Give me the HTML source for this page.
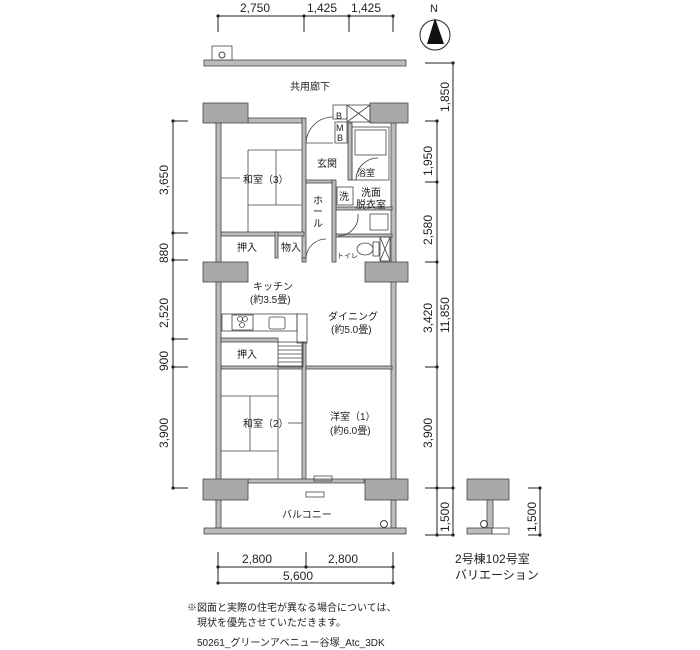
<!DOCTYPE html>
<html><head><meta charset="utf-8"><style>
html,body{margin:0;padding:0;background:#fff;}
svg{display:block;}
text{font-family:"Liberation Sans","Noto Sans CJK JP",sans-serif;fill:#222;}
</style></head><body>
<svg width="700" height="650" viewBox="0 0 700 650" xmlns="http://www.w3.org/2000/svg">
<g stroke="#222" stroke-width="1" fill="none">
<!-- top dims -->
<line x1="218" y1="16" x2="393" y2="16"/>
<line x1="218" y1="16" x2="218" y2="32"/><line x1="304" y1="16" x2="304" y2="32"/><line x1="349" y1="16" x2="349" y2="32"/><line x1="393" y1="16" x2="393" y2="32"/>
<!-- left dims -->
<line x1="173" y1="121" x2="173" y2="488"/>
<line x1="173" y1="121" x2="188" y2="121"/><line x1="173" y1="233" x2="188" y2="233"/><line x1="173" y1="260" x2="188" y2="260"/><line x1="173" y1="339" x2="188" y2="339"/><line x1="173" y1="367" x2="188" y2="367"/><line x1="173" y1="488" x2="188" y2="488"/>
<!-- right dims -->
<line x1="437" y1="121" x2="437" y2="535"/>
<line x1="453" y1="63" x2="453" y2="535"/>
<line x1="425" y1="63" x2="453" y2="63"/><line x1="425" y1="121" x2="437" y2="121"/><line x1="425" y1="182" x2="437" y2="182"/><line x1="425" y1="262" x2="437" y2="262"/><line x1="425" y1="367" x2="437" y2="367"/><line x1="425" y1="488" x2="453" y2="488"/><line x1="425" y1="535" x2="453" y2="535"/>
<line x1="540" y1="488" x2="540" y2="535"/><line x1="528" y1="488" x2="540" y2="488"/><line x1="528" y1="535" x2="540" y2="535"/>
<!-- bottom dims -->
<line x1="218" y1="567" x2="393" y2="567"/><line x1="218" y1="583" x2="393" y2="583"/>
<line x1="218" y1="552" x2="218" y2="583"/><line x1="306" y1="552" x2="306" y2="567"/><line x1="393" y1="552" x2="393" y2="583"/>
</g>
<g fill="#222">
<circle cx="218" cy="16" r="1.6"/><circle cx="304" cy="16" r="1.6"/><circle cx="349" cy="16" r="1.6"/><circle cx="393" cy="16" r="1.6"/>
<circle cx="173" cy="121" r="1.6"/><circle cx="173" cy="233" r="1.6"/><circle cx="173" cy="260" r="1.6"/><circle cx="173" cy="339" r="1.6"/><circle cx="173" cy="367" r="1.6"/><circle cx="173" cy="488" r="1.6"/>
<circle cx="453" cy="63" r="1.6"/><circle cx="437" cy="121" r="1.6"/><circle cx="437" cy="182" r="1.6"/><circle cx="437" cy="262" r="1.6"/><circle cx="437" cy="367" r="1.6"/><circle cx="437" cy="488" r="1.6"/><circle cx="453" cy="488" r="1.6"/><circle cx="437" cy="535" r="1.6"/><circle cx="453" cy="535" r="1.6"/>
<circle cx="540" cy="488" r="1.6"/><circle cx="540" cy="535" r="1.6"/>
<circle cx="218" cy="567" r="1.6"/><circle cx="306" cy="567" r="1.6"/><circle cx="393" cy="567" r="1.6"/><circle cx="218" cy="583" r="1.6"/><circle cx="393" cy="583" r="1.6"/>
</g>
<!-- north -->
<circle cx="435" cy="35" r="15" fill="none" stroke="#222"/>
<polygon points="435,18 444,44 427,44" fill="#111"/>
<text x="430" y="12" font-size="11">N</text>

<!-- corridor rail -->
<rect x="204" y="60" width="202" height="6" fill="#bbb" stroke="#444" stroke-width="0.8"/>
<rect x="212" y="46" width="20" height="14" fill="#fff" stroke="#444" stroke-width="0.8"/>
<circle cx="222" cy="55" r="3" fill="none" stroke="#444"/>

<g fill="#bbb" stroke="#444" stroke-width="0.8">
<!-- walls -->
<rect x="216" y="118" width="5" height="378"/>
<rect x="391" y="118" width="5" height="378"/>
<rect x="248" y="118" width="56" height="5"/>
<rect x="302" y="118" width="4" height="140"/>
<rect x="221" y="232" width="83" height="4"/>
<rect x="275" y="232" width="3" height="26"/>
<rect x="302" y="258" width="4" height="4"/>
<rect x="332" y="180" width="4" height="82"/>
<rect x="306" y="180" width="26" height="3"/>
<rect x="348" y="123" width="4" height="57"/>
<rect x="336" y="207" width="56" height="3"/>
<rect x="336" y="234" width="56" height="3"/>
<rect x="221" y="338" width="57" height="4"/>
<rect x="221" y="366" width="171" height="3"/>
<rect x="302" y="342" width="4" height="138"/>
<rect x="248" y="479" width="116" height="4"/>
<rect x="216" y="500" width="5" height="28"/>
<rect x="391" y="500" width="5" height="28"/>
<rect x="204" y="528" width="202" height="6"/>
<!-- pillars -->
<rect x="203" y="103" width="45" height="20" fill="#a8a8a8"/>
<rect x="370" y="103" width="38" height="20" fill="#a8a8a8"/>
<rect x="203" y="262" width="45" height="20" fill="#a8a8a8"/>
<rect x="365" y="262" width="43" height="20" fill="#a8a8a8"/>
<rect x="203" y="479" width="45" height="21" fill="#a8a8a8"/>
<rect x="365" y="479" width="43" height="21" fill="#a8a8a8"/>
<!-- variation -->
<rect x="467" y="479" width="42" height="21" fill="#a8a8a8"/>
<rect x="487" y="500" width="6" height="28"/>
<rect x="467" y="528" width="25" height="6"/>
</g>
<rect x="492" y="528" width="17" height="6" fill="#fff" stroke="#444" stroke-width="0.8"/>
<circle cx="484" cy="524" r="3.5" fill="none" stroke="#444"/>
<circle cx="384" cy="524" r="3.5" fill="none" stroke="#444"/>

<g fill="none" stroke="#444" stroke-width="0.8">
<!-- B / MB / X -->
<rect x="333" y="105" width="14" height="14"/>
<rect x="347" y="105" width="23" height="17"/><line x1="347" y1="105" x2="370" y2="122"/><line x1="370" y1="105" x2="347" y2="122"/>
<rect x="335" y="122" width="12" height="21"/>
<!-- bath -->
<rect x="352" y="127" width="37" height="53"/>
<rect x="355" y="130" width="31" height="25"/>
<path d="M356 180 A22 22 0 0 1 378 158"/>
<!-- door entry -->
<path d="M306 143 A27 27 0 0 1 333 117"/>
<line x1="306" y1="143" x2="333" y2="143"/>
<!-- 洗 box -->
<rect x="337" y="187" width="16" height="18"/>
<path d="M338 236 A20 20 0 0 0 358 214"/>
<rect x="370" y="214" width="18" height="16"/>
<!-- toilet -->
<rect x="380" y="237" width="10" height="24"/><line x1="380" y1="237" x2="390" y2="261"/><line x1="390" y1="237" x2="380" y2="261"/>
<ellipse cx="365" cy="249" rx="8" ry="6"/><rect x="373" y="242" width="6" height="14"/>
<path d="M306 259 A20 20 0 0 1 326 239"/>
<!-- tatami 3 -->
<line x1="248" y1="150" x2="248" y2="232"/><line x1="276" y1="150" x2="276" y2="205"/>
<line x1="248" y1="150" x2="302" y2="150"/><line x1="221" y1="178" x2="240" y2="178"/><line x1="248" y1="205" x2="302" y2="205"/>
<!-- tatami 2 -->
<line x1="221" y1="396" x2="278" y2="396"/><line x1="221" y1="451" x2="278" y2="451"/><line x1="250" y1="396" x2="250" y2="451"/><line x1="278" y1="369" x2="278" y2="479"/>
<line x1="288" y1="423" x2="302" y2="423"/>
<!-- kitchen counter -->
<rect x="222" y="314" width="75" height="17"/>
<rect x="232" y="315" width="21" height="15"/>
<circle cx="240" cy="319" r="2.5"/><circle cx="245" cy="319" r="2.5"/><circle cx="242" cy="325" r="2.5"/>
<rect x="269" y="317" width="16" height="12" rx="2"/>
<rect x="297" y="314" width="10" height="29"/>
<!-- stairs -->
<rect x="278" y="342" width="25" height="25"/>
<line x1="278" y1="346" x2="303" y2="346"/><line x1="278" y1="350" x2="303" y2="350"/><line x1="278" y1="354" x2="303" y2="354"/><line x1="278" y1="358" x2="303" y2="358"/><line x1="278" y1="362" x2="303" y2="362"/>
<!-- AC -->
<rect x="314" y="476" width="18" height="5"/><rect x="306" y="492" width="18" height="5"/>
</g>

<!-- labels -->
<g font-size="12">
<text x="240" y="12">2,750</text><text x="307" y="12">1,425</text><text x="351" y="12">1,425</text>
<text x="242" y="563">2,800</text><text x="328" y="563">2,800</text><text x="283" y="580">5,600</text>
</g>
<g font-size="12">
<text transform="translate(168,195) rotate(-90)">3,650</text>
<text transform="translate(168,263) rotate(-90)">880</text>
<text transform="translate(168,328) rotate(-90)">2,520</text>
<text transform="translate(168,371) rotate(-90)">900</text>
<text transform="translate(168,448) rotate(-90)">3,900</text>
<text transform="translate(449,112) rotate(-90)">1,850</text>
<text transform="translate(432,176) rotate(-90)">1,950</text>
<text transform="translate(432,245) rotate(-90)">2,580</text>
<text transform="translate(432,333) rotate(-90)">3,420</text>
<text transform="translate(449,333) rotate(-90)">11,850</text>
<text transform="translate(432,448) rotate(-90)">3,900</text>
<text transform="translate(449,532) rotate(-90)">1,500</text>
<text transform="translate(536,532) rotate(-90)">1,500</text>
</g>
<g font-size="10">
<text x="290" y="90">共用廊下</text>
<text x="243" y="183">和室（3）</text>
<text x="317" y="167">玄関</text>
<text x="357" y="176" font-size="9">浴室</text>
<text x="339" y="200">洗</text>
<text x="361" y="196">洗面</text><text x="356" y="208">脱衣室</text>
<text x="336" y="119" font-size="9">B</text>
<text x="336" y="131" font-size="9">M</text><text x="337" y="141" font-size="9">B</text>
<text x="237" y="251">押入</text><text x="281" y="251">物入</text>
<text x="337" y="258" font-size="7">トイレ</text>
<text x="253" y="290">キッチン</text><text x="250" y="303">(約3.5畳)</text>
<text x="328" y="320">ダイニング</text><text x="331" y="333">(約5.0畳)</text>
<text x="237" y="358">押入</text>
<text x="243" y="427">和室（2）</text>
<text x="330" y="420">洋室（1）</text><text x="330" y="434">(約6.0畳)</text>
<text x="282" y="518">バルコニー</text>
<text x="455" y="563" font-size="12">2号棟102号室</text>
<text x="455" y="579" font-size="12">バリエーション</text>
<text x="187" y="611">※図面と実際の住宅が異なる場合については、</text>
<text x="197" y="626">現状を優先させていただきます。</text>
<text x="197" y="646">50261_グリーンアベニュー谷塚_Atc_3DK</text>
</g>
<g font-size="10">
<text x="313" y="204">ホ</text><text x="313" y="215">ー</text><text x="313" y="227">ル</text>
</g>
</svg>
</body></html>
